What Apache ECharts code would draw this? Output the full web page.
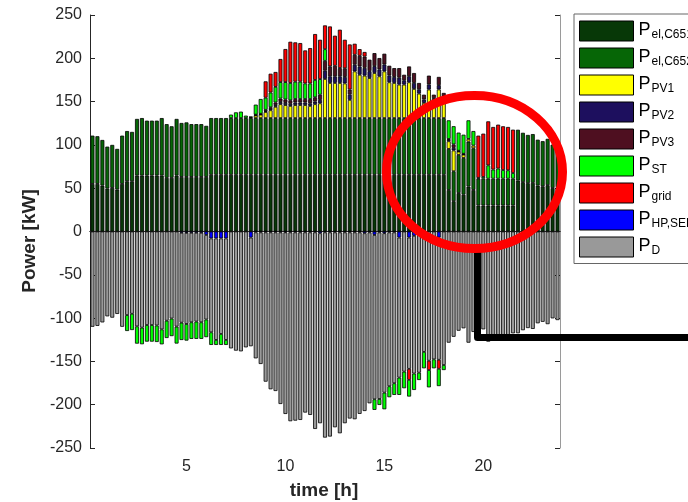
<!DOCTYPE html>
<html><head><meta charset="utf-8">
<script src="https://cdn.jsdelivr.net/npm/echarts@6/dist/echarts.min.js"></script>
<style>html,body{margin:0;padding:0;background:#fff}#c{width:688px;height:502px}</style>
</head><body><div id="c"></div>
<script>
const hours = ['0.25','0.5','0.75','1','1.25','1.5','1.75','2','2.25','2.5','2.75','3','3.25','3.5','3.75','4','4.25','4.5','4.75','5',
'5.25','5.5','5.75','6','6.25','6.5','6.75','7','7.25','7.5','7.75','8','8.25','8.5','8.75','9','9.25','9.5','9.75','10',
'10.25','10.5','10.75','11','11.25','11.5','11.75','12','12.25','12.5','12.75','13','13.25','13.5','13.75','14','14.25','14.5','14.75','15',
'15.25','15.5','15.75','16','16.25','16.5','16.75','17','17.25','17.5','17.75','18','18.25','18.5','18.75','19','19.25','19.5','19.75','20',
'20.25','20.5','20.75','21','21.25','21.5','21.75','22','22.25','22.5','22.75','23','23.25','23.5','23.75'];
const xTickLabels = ['5','10','15','20'];
const yMin = -250, yMax = 250, yStep = 50;

const elC651 = [55,55,53,49.6,50.4,48.4,55,58,58,64.6,
64.6,64.6,64.6,64.6,64.6,62,62,64.6,63,63,
63,63,63,63,65.5,65.5,65.5,65.5,65.5,65.5,
65.5,65.5,65.5,65.5,65.5,65.5,65.5,65.5,65.5,65.5,
65.5,65.5,65.5,65.5,65.5,65.5,65.5,65.5,65.5,65.5,
65.5,65.5,65.5,65.5,65.5,65.5,65.5,65.5,65.5,65.5,
65.5,65.5,65.5,65.5,65.5,65.5,65.5,65.5,65.5,65.5,
65.5,65.5,48,35,44.4,42.5,51.9,48,30,30,
30,30,30,30,30,30,58.8,57,55.8,56.2,
53,52.2,53.5,50.2,51.2];
const elC652 = [55.7,55,52.7,48.4,49.6,47,55.7,58,57,65.4,
66.4,63.4,63.4,63.4,66.4,62,59.5,65.4,62.3,63,
61,61,61,59,65.5,65.5,65.5,65.5,65.5,65.5,
65.5,65.5,65.5,65.5,65.5,65.5,65.5,65.5,65.5,65.5,
65.5,65.5,65.5,65.5,65.5,65.5,65.5,65.5,65.5,65.5,
65.5,65.5,65.5,65.5,65.5,65.5,65.5,65.5,65.5,65.5,
65.5,65.5,65.5,65.5,65.5,65.5,65.5,65.5,65.5,65.5,
65.5,65.5,47.4,34.6,44.1,42.4,51.9,48.1,31,31,
31,31,31,31,31,31,58.7,57,55.7,56.3,
53,52.1,53.5,50.1,51.1];
const pv1 = [0,0,0,0,0,0,0,0,0,0,
0,0,0,0,0,0,0,0,0,0,
0,0,0,0,0,0,0,0,0,0,
0,0,1,3,4,7,9,13,16,15,
14,15,15,15,14,16,17,45.1,40.5,40.5,
40.5,40,21,53.9,50,49,46.2,52,48.2,53.9,
41.3,40.5,38.6,38.6,41.3,33.6,28.2,17.5,32.9,20,
33,22,8.8,24,3.8,3.9,3.1,3.1,0,0,
0,0,0,0,0,0,0,0,0,0,
0,0,0,0,0];
const pv2 = [0,0,0,0,0,0,0,0,0,0,
0,0,0,0,0,0,0,0,0,0,
0,0,0,0,0,0,0,0,0,0,
0,0,0,0.5,0.5,1,1.5,2,2.5,2.5,
2.5,3,3,3,3,3,4,9.6,7.7,7.7,
7.7,7.5,6,7.7,9.6,9,8,8,8,8,
8,7,8,5,7,7,5,4,6,3,
5,3,1.5,3,0.5,0.5,0,0,0,0,
0,0,0,0,0,0,0,0,0,0,
0,0,0,0,0];
const pv3 = [0,0,0,0,0,0,0,0,0,0,
0,0,0,0,0,0,0,0,0,0,
0,0,0,0,0,0,0,0,0,0,
0,0,0,0.5,0.5,1.5,2,3,4,4,
4,4,4,4,5,5,6,11.4,11.5,12.2,
9.6,10,6,11.5,12.3,13,13.2,15,13.1,12.4,
11.1,10.2,11.1,6.4,11.3,11.4,7.3,5.5,10.1,4,
9.5,4,1.2,4,0.5,0.5,0,0,0,0,
0,0,0,0,0,0,0,0,0,0,
0,0,0,0,0];
const stPos = [0,0,0,0,0,0,0,0,0,0,
0,0,0,0,0,0,0,0,0,0,
0,0,0,0,0,0,0,0,4,6.6,
7.4,2.8,0.5,11.5,17,14,17,18,19,20,
20,20,20,18,18,20,18,13.4,0,0,
0,0,0,0,0,0,0,0,0,0,
0,0,0,0,0,0,0,0,0,0,
0,0,21.5,21,20.9,22,21.5,16.8,1,2,
15.4,10.5,11.7,10,9.7,6.5,0,0,0,0,
0,0,0,0,0];
const gridPos = [0,0,0,0,0,0,0,0,0,0,
0,0,0,0,0,0,0,0,0,0,
0,0,0,0,0,0,0,0,0,0,
0,0,0,0,0,18.9,21.7,17.2,26.7,38.2,
47.6,45.4,44.6,38.1,40.8,53,45.4,27.5,46.1,34.7,
44.2,32.9,52,12.7,7.7,5.3,0,0,0,0,
0,0,0,0,0,0,0,0,0,0,
0,0,0,0,0,0,0,0,48.7,50,
50.8,49.2,50.7,50.5,50,50.1,0,0,0,0,
0,0,0,0,0];
const hpSeb = [0,0,0,0,0,0,0,0,0,0,
0,0,0,0,0,0,0,0,-1.5,-1.5,
-1.5,-1.5,-1.5,-4,-8,-8,-8,-8,0,0,
0,0,-7,-1,-1,-1,-1,-1,-1,-1,
-1,-1,-1,-1,-1,-1,-2,-1,-1,-1,
-1,-1,-1,-1,-1,-2,-1,-4,-1,-2,
-1,-1,-7,0,-7,-5,0,0,0,0,
-7,0,0,0,0,0,0,0,0,0,
0,0,0,0,0,0,0,0,0,0,
0,0,0,0,0];
const demand = [-110,-109,-105,-98,-99.5,-95.2,-110,-96.5,-95,-109.5,
-111,-108,-108,-108.5,-113,-103,-100.5,-109.8,-103.8,-105.3,
-103.3,-102.5,-103.3,-97.6,-108.4,-117.2,-110.3,-117.2,-135,-137.6,
-138.4,-133.8,-125.5,-145.5,-152,-172.4,-181.2,-183.2,-198.2,-209.7,
-218.1,-217.4,-216.6,-208.1,-210.8,-227,-219.4,-237,-235.8,-225.1,
-232,-220.4,-215,-215.8,-209.6,-205.3,-197.4,-189.7,-192.4,-184.1,
-177.7,-174.2,-161.7,-161.8,-151.6,-159,-163,-139,-149.2,-147.6,
-141.1,-154.2,-128.4,-121.6,-114.6,-111.8,-128.4,-116,-110.7,-113,
-127.2,-120.7,-123.4,-121.5,-120.7,-117.6,-117.5,-114,-111.5,-112.5,
-106,-104.3,-107,-100.3,-102.3];
const gridNeg = [0,0,0,0,0,0,0,0,0,0,
0,0,0,0,0,0,0,0,0,0,
0,0,0,0,0,0,0,0,0,0,
0,0,0,0,0,0,0,0,0,0,
0,0,0,0,0,0,0,0,0,0,
0,0,0,0,0,0,0,0,0,0,
0,0,0,0,-12.7,0,0,0,-10.8,0,
-10.4,0,0,0,0,0,0,0,0,0,
0,0,0,0,0,0,0,0,0,0,
0,0,0,0,0];
const stNeg = [0,0,0,0,0,0,0,-18.4,-18.8,-20,
-19.2,-19.2,-19.2,-19.1,-17.3,-20,-20.3,-19.6,-20,-19.2,
-19.2,-20,-19.2,-20.4,-14.6,-5.8,-12.7,-5.8,0,0,
0,0,0,0,0,0,0,0,0,0,
0,0,0,0,0,0,0,0,0,0,
0,0,0,0,0,0,0,-12.3,-6.9,-19.2,
-12.7,-13.5,-20,-19.2,-19.3,-19,-8.5,-19,-20,-10.4,
-20,-5.8,0,0,0,0,0,0,0,0,
0,0,0,0,0,0,0,0,0,0,
0,0,0,0,0];

const legendNames = ['el,C651','el,C652','PV1','PV2','PV3','ST','grid','HP,SEB','D'];
const colors = {'el,C651':'#073807','el,C652':'#066606','PV1':'#ffff00','PV2':'#1d0f5e','PV3':'#4e0f20','ST':'#00ff00','grid':'#ff0000','HP,SEB':'#0000ff','D':'#999999'};

function bar(name, data) {
  return {
    type:'bar', name:name, stack:'total', barWidth:'80%',
    data: data.map(v => v === 0 ? null : v),
    itemStyle:{color:colors[name], borderColor:'#000', borderWidth:0.8},
    emphasis:{disabled:true}, animation:false
  };
}
const isTick = (idx, val) => xTickLabels.indexOf(String(val)) >= 0;
const FONT = 'Liberation Sans, Arial, sans-serif';

const chart = echarts.init(document.getElementById('c'), null, {renderer:'canvas'});
chart.setOption({
  backgroundColor:'#ffffff',
  animation:false,
  grid:{left:90, top:15, width:470, height:433, containLabel:false},
  xAxis:[{
    type:'category', data:hours, position:'bottom',
    axisLine:{lineStyle:{color:'#262626', width:1}},
    axisTick:{show:true, inside:true, length:5, alignWithLabel:true, interval:isTick, lineStyle:{color:'#262626'}},
    axisLabel:{interval:isTick, fontSize:16, color:'#262626', fontFamily:FONT, margin:11},
    splitLine:{show:false}
  },{
    type:'category', data:hours, position:'top',
    axisLine:{lineStyle:{color:'#262626', width:1}},
    axisTick:{show:true, inside:true, length:5, alignWithLabel:true, interval:isTick, lineStyle:{color:'#262626'}},
    axisLabel:{show:false}, splitLine:{show:false}
  }],
  yAxis:[{
    type:'value', min:yMin, max:yMax, interval:yStep, position:'left',
    axisLine:{show:true, lineStyle:{color:'#262626', width:1}},
    axisTick:{show:true, inside:true, length:5, lineStyle:{color:'#262626'}},
    axisLabel:{fontSize:16, color:'#262626', fontFamily:FONT, margin:8},
    splitLine:{show:false}
  },{
    type:'value', min:yMin, max:yMax, interval:yStep, position:'right',
    axisLine:{show:true, lineStyle:{color:'#9a9a9a', width:1}},
    axisTick:{show:true, inside:true, length:5, lineStyle:{color:'#262626'}},
    axisLabel:{show:false}, splitLine:{show:false}
  }],
  legend:{
    orient:'vertical', left:574, top:14, padding:[2,40,6,5],
    itemWidth:54, itemHeight:20, itemGap:1.5, icon:'rect',
    backgroundColor:'#ffffff', borderColor:'#666666', borderWidth:1, borderRadius:0,
    data:legendNames,
    itemStyle:{borderColor:'#000', borderWidth:1},
    formatter: n => '{m|P}{s|' + n + '}',
    textStyle:{rich:{
      m:{fontFamily:FONT, fontSize:18, color:'#000', lineHeight:20, verticalAlign:'top'},
      s:{fontFamily:FONT, fontSize:12, color:'#000', lineHeight:12, padding:[13,0,0,1], verticalAlign:'bottom'}
    }},
    selectedMode:false
  },
  series:[
    bar('el,C651', elC651), bar('el,C652', elC652), bar('PV1', pv1), bar('PV2', pv2), bar('PV3', pv3),
    bar('ST', stPos), bar('grid', gridPos), bar('HP,SEB', hpSeb), bar('D', demand),
    bar('grid', gridNeg), bar('ST', stNeg)
  ],
  graphic:[
    {type:'text', x:30, y:241, rotation:Math.PI/2, z:50,
     style:{text:'Power [kW]', fontFamily:FONT, fontSize:19, fontWeight:'bold', fill:'#262626', align:'center', verticalAlign:'middle'}},
    {type:'text', x:324, y:491, z:50,
     style:{text:'time [h]', fontFamily:FONT, fontSize:19, fontWeight:'bold', fill:'#262626', align:'center', verticalAlign:'middle'}},
    {type:'polyline', z:100, shape:{points:[[477.5,250],[477.5,337.5],[700,337.5]]},
     style:{stroke:'#000', lineWidth:7, fill:'none', lineJoin:'round', lineCap:'butt'}},
    {type:'ellipse', z:101, shape:{cx:474.5, cy:172, rx:88, ry:76.5},
     style:{stroke:'#ff0000', fill:'none', lineWidth:9}}
  ]
});
</script></body></html>
